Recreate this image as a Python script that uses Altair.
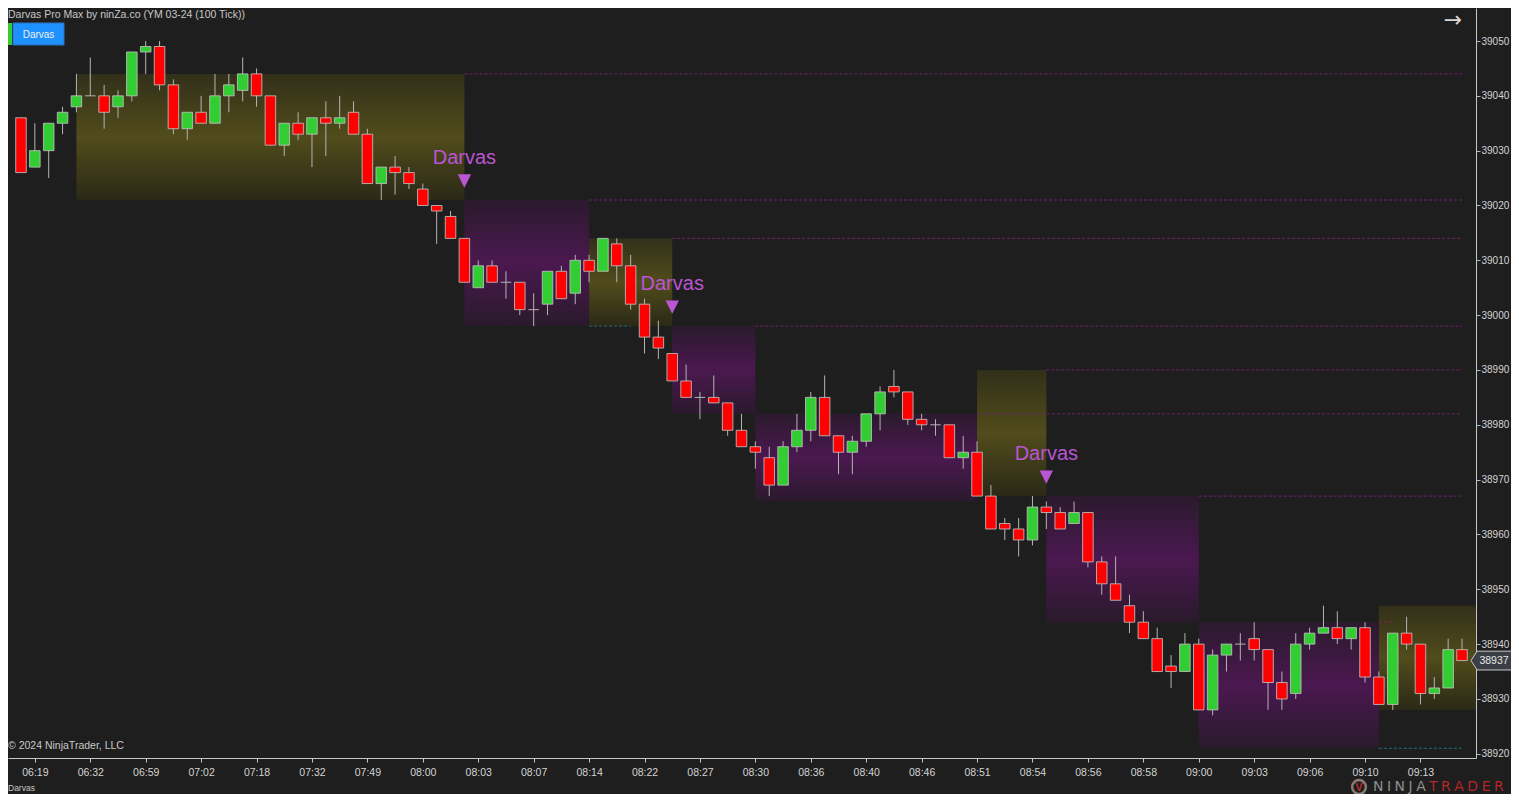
import altair as alt
import pandas as pd

# ---------------- data ----------------
times = ["06:19", "06:32", "06:59", "07:02", "07:18", "07:32", "07:49", "08:00", "08:03",
         "08:07", "08:14", "08:22", "08:27", "08:30", "08:36", "08:40", "08:46", "08:51",
         "08:54", "08:56", "08:58", "09:00", "09:03", "09:06", "09:10", "09:13"]

opens = [39036, 39027, 39030, 39035, 39038, 39040, 39040, 39038, 39040, 39048,
         39049, 39042, 39034, 39037, 39035, 39040, 39041, 39044, 39040, 39031,
         39035, 39033, 39036, 39035, 39037, 39033, 39024, 39027, 39026, 39023,
         39020, 39018, 39014, 39005, 39009, 39006, 39006, 39001, 39002, 39008,
         39004, 39010, 39008, 39013, 39009, 39002, 38996, 38993, 38988, 38985,
         38985, 38984, 38979, 38976, 38974, 38969, 38976, 38979, 38985, 38978,
         38975, 38977, 38982, 38987, 38986, 38981, 38980, 38980, 38974, 38975,
         38967, 38962, 38961, 38959, 38965, 38964, 38962, 38964, 38955, 38951,
         38947, 38944, 38941, 38936, 38935, 38940, 38928, 38938, 38940, 38941,
         38939, 38933, 38931, 38940, 38942, 38943, 38941, 38943, 38934, 38929,
         38942, 38940, 38931, 38932, 38939]
highs = [39036, 39035, 39035, 39038, 39044, 39047, 39042, 39041, 39048, 39050,
         39050, 39043, 39037, 39040, 39044, 39044, 39047, 39045, 39040, 39035,
         39037, 39036, 39039, 39040, 39039, 39034, 39027, 39029, 39027, 39024,
         39020, 39019, 39014, 39010, 39010, 39008, 39006, 39004, 39008, 39009,
         39011, 39011, 39014, 39014, 39011, 39003, 38999, 38993, 38991, 38986,
         38989, 38984, 38982, 38977, 38976, 38977, 38982, 38986, 38989, 38978,
         38978, 38982, 38987, 38990, 38986, 38982, 38981, 38980, 38978, 38977,
         38969, 38963, 38963, 38967, 38966, 38965, 38966, 38964, 38956, 38956,
         38949, 38946, 38943, 38938, 38942, 38941, 38939, 38940, 38942, 38944,
         38939, 38935, 38942, 38943, 38947, 38946, 38943, 38944, 38935, 38942,
         38945, 38940, 38934, 38941, 38941]
lows = [39026, 39027, 39025, 39033, 39037, 39040, 39034, 39036, 39039, 39044,
        39041, 39033, 39032, 39035, 39035, 39037, 39039, 39038, 39031, 39029,
        39032, 39027, 39029, 39034, 39033, 39024, 39021, 39022, 39023, 39020,
        39013, 39014, 39006, 39005, 39006, 39003, 39000, 38998, 39000, 39003,
        39002, 39006, 39008, 39006, 39001, 38993, 38992, 38988, 38985, 38981,
        38984, 38978, 38976, 38972, 38967, 38969, 38975, 38977, 38978, 38971,
        38971, 38976, 38979, 38985, 38980, 38979, 38978, 38974, 38972, 38967,
        38961, 38959, 38956, 38958, 38961, 38961, 38962, 38954, 38949, 38948,
        38942, 38941, 38935, 38932, 38935, 38928, 38927, 38935, 38937, 38937,
        38928, 38928, 38930, 38939, 38942, 38940, 38939, 38933, 38929, 38928,
        38939, 38929, 38930, 38932, 38937]
closes = [39026, 39030, 39035, 39037, 39040, 39040, 39037, 39040, 39048, 39049,
          39042, 39034, 39037, 39035, 39040, 39042, 39044, 39040, 39031, 39035,
          39033, 39036, 39035, 39036, 39033, 39024, 39027, 39026, 39024, 39020,
          39019, 39014, 39006, 39009, 39006, 39006, 39001, 39001, 39008, 39003,
          39010, 39008, 39014, 39009, 39002, 38996, 38994, 38988, 38985, 38985,
          38984, 38979, 38976, 38975, 38969, 38976, 38979, 38985, 38978, 38975,
          38977, 38982, 38986, 38986, 38981, 38980, 38980, 38974, 38975, 38967,
          38961, 38961, 38959, 38965, 38964, 38961, 38964, 38955, 38951, 38948,
          38944, 38941, 38935, 38935, 38940, 38928, 38938, 38940, 38940, 38939,
          38933, 38930, 38940, 38942, 38943, 38941, 38943, 38934, 38929, 38942,
          38940, 38931, 38932, 38939, 38937]

# Darvas boxes (bar index start/end, price low/high)
olive_start = [4, 41, 69, 98]
olive_end = [32, 47, 74, 105]
olive_lo = [39021, 38998, 38967, 38928]
olive_hi = [39044, 39014, 38990, 38947]

purple_start = [32, 47, 53, 74, 85]
purple_end = [41, 53, 69, 85, 98]
purple_lo = [38998, 38982, 38966, 38944, 38921]
purple_hi = [39021, 38998, 38982, 38967, 38944]

# extended box levels
level_start = [32, 41, 47, 53, 74, 69, 85, 41, 98, 98]
level_end = [104, 104, 104, 104, 104, 104, 104, 44, 104, 99]
level_price = [39044, 39021, 39014, 38998, 38990, 38982, 38967, 38998, 38921, 38944]
level_kind = ["box", "box", "box", "box", "box", "box", "box", "low", "low", "brk"]

# Darvas signals
signal_bar = [32, 47, 74]
signal_price = [39021, 38998, 38967]
signal_text = ["Darvas", "Darvas", "Darvas"]

y_ticks = list(range(38920, 39051, 10))
x_ticks = [1 + 4 * k for k in range(len(times))]

title_text = "Darvas Pro Max by ninZa.co (YM 03-24 (100 Tick))"

# ---------------- frames ----------------
n = len(opens)
HALF = 0.38
candles = pd.DataFrame({
    "i": list(range(n)), "o": opens, "h": highs, "l": lows, "c": closes,
})
candles["xl"] = candles["i"] - HALF
candles["xr"] = candles["i"] + HALF
candles["bot"] = candles[["o", "c"]].min(axis=1)
candles["top"] = candles[["o", "c"]].max(axis=1)
candles["dir"] = ["up" if c > o else ("down" if c < o else "flat") for o, c in zip(opens, closes)]
bodies = candles[candles["dir"] != "flat"]
dojis = candles[candles["dir"] == "flat"]

olive = pd.DataFrame({"s": olive_start, "e": olive_end, "lo": olive_lo, "hi": olive_hi})
purple = pd.DataFrame({"s": purple_start, "e": purple_end, "lo": purple_lo, "hi": purple_hi})
levels = pd.DataFrame({"s": level_start, "e": level_end, "p": level_price, "k": level_kind})
signals = pd.DataFrame({"i": signal_bar, "p": signal_price, "t": signal_text})
last = pd.DataFrame({"p": [closes[-1]], "t": [str(closes[-1])]})
one = pd.DataFrame({"t": [title_text]})

# ---------------- scales / axes ----------------
FONT = "Liberation Sans, Arial, sans-serif"
W, H = 1468, 750
xs = alt.Scale(domain=[-0.938, 105.009], nice=False, zero=False)
ys = alt.Scale(domain=[38919.23, 39056.02], nice=False, zero=False)

label_expr = "[" + ",".join("'%s'" % t for t in times) + "][round((datum.value-1)/4)]"
x_axis = alt.Axis(values=x_ticks, labelExpr=label_expr, grid=False, title=None,
                  domainColor="#c8c8c8", tickColor="#c8c8c8", tickSize=4,
                  labelColor="#d4d4d4", labelFontSize=10.5, labelFont=FONT,
                  labelPadding=5, labelOverlap=False, labelFlush=False)
y_axis = alt.Axis(values=y_ticks, orient="right", grid=False, title=None,
                  domainColor="#c8c8c8", tickColor="#b4b4b4", tickSize=4,
                  labelColor="#d4d4d4", labelFontSize=10, labelFont=FONT,
                  labelPadding=1, labelOverlap=False, labelFlush=False, format="d")


def X(f):
    return alt.X(f, type="quantitative", scale=xs, axis=x_axis)


def Y(f):
    return alt.Y(f, type="quantitative", scale=ys, axis=y_axis)


olive_grad = alt.Gradient(gradient="linear", x1=0, x2=0, y1=0, y2=1, stops=[
    alt.GradientStop(offset=0, color="#32301a"),
    alt.GradientStop(offset=0.5, color="#514c1b"),
    alt.GradientStop(offset=1, color="#2b2917"),
])
purple_grad = alt.Gradient(gradient="linear", x1=0, x2=0, y1=0, y2=1, stops=[
    alt.GradientStop(offset=0, color="#2b1a2d"),
    alt.GradientStop(offset=0.5, color="#4b1850"),
    alt.GradientStop(offset=1, color="#2a1a2c"),
])

olive_layer = alt.Chart(olive).mark_rect(fill=olive_grad).encode(
    x=X("s"), x2="e", y=Y("lo"), y2="hi")
purple_layer = alt.Chart(purple).mark_rect(fill=purple_grad).encode(
    x=X("s"), x2="e", y=Y("lo"), y2="hi")

level_layer = alt.Chart(levels).mark_rule(strokeDash=[3, 2], strokeWidth=1).encode(
    x=X("s"), x2="e", y=Y("p"),
    color=alt.Color("k:N", scale=alt.Scale(domain=["box", "low", "brk"],
                                           range=["#6e226e", "#1f6e6e", "#7a2a4e"]), legend=None))

wick_layer = alt.Chart(candles).mark_rule(color="#b4b4b4", strokeWidth=1).encode(
    x=X("i"), y=Y("l"), y2="h")

body_layer = alt.Chart(bodies).mark_rect(stroke="#c0c0c0", strokeWidth=1, strokeOpacity=0.85).encode(
    x=X("xl"), x2="xr", y=Y("bot"), y2="top",
    fill=alt.Fill("dir:N", scale=alt.Scale(domain=["up", "down"], range=["#32cd32", "#ff0000"]), legend=None))

doji_layer = alt.Chart(dojis).mark_rule(color="#b4b4b4", strokeWidth=1).encode(
    x=X("xl"), x2="xr", y=Y("o"))

sig_text = alt.Chart(signals).mark_text(color="#ba55d3", fontSize=20, font=FONT, dy=-42,
                                        baseline="middle", align="center").encode(
    x=X("i"), y=Y("p"), text="t:N")
sig_tri = alt.Chart(signals).mark_point(shape="M-1,-1L1,-1L0,1Z", size=180, filled=True,
                                        color="#ba55d3", opacity=1, yOffset=-19).encode(
    x=X("i"), y=Y("p"))

# current price tag
tag_shape = alt.Chart(last).mark_point(shape="M-1,0L-0.74,-0.4L1,-0.4L1,0.4L-0.74,0.4Z", size=2209,
                                       filled=True, fill="#3b3f45", stroke="#c8c8c8",
                                       strokeWidth=1, opacity=1).encode(
    x=alt.value(1486.5), y=Y("p"))
tag_text = alt.Chart(last).mark_text(color="#e8e8e8", fontSize=10.5, font=FONT, align="center",
                                     baseline="middle").encode(
    x=alt.value(1486), y=Y("p"), text="t:N")


def ui_text(s, x, y, **kw):
    return alt.Chart(pd.DataFrame({"t": [s]})).mark_text(**kw).encode(
        x=alt.value(x), y=alt.value(y), text="t:N")


def ui_rect(x1, x2, y1, y2, **kw):
    return alt.Chart(one).mark_rect(**kw).encode(
        x=alt.value(x1), x2=alt.value(x2), y=alt.value(y1), y2=alt.value(y2))


header = ui_text(title_text, 0, 10, color="#c8c8c8", fontSize=10.5, font=FONT,
                 align="left", baseline="alphabetic")
green_bar = ui_rect(0, 4, 15, 37, fill="#32cd32")
button = ui_rect(5, 56, 15, 37, fill="#1e90ff", stroke="#2a70b8", strokeWidth=1)
button_text = ui_text("Darvas", 30.5, 26.5, color="#f0f0f0", fontSize=10, font=FONT,
                      align="center", baseline="middle")
arrow = ui_text("\u2192", 1445, 12, color="#d8d8d8", fontSize=22, font="DejaVu Sans",
                align="center", baseline="middle")
copyright_t = ui_text("\u00a9 2024 NinjaTrader, LLC", 0, 738, color="#c8c8c8", fontSize=10.5,
                      font=FONT, align="left", baseline="middle")
bottom_t = ui_text("Darvas", 0, 780, color="#c8c8c8", fontSize=8.5, font=FONT,
                   align="left", baseline="middle")
logo_ring = alt.Chart(one).mark_point(shape="circle", filled=False, stroke="#8a7c72",
                                      strokeWidth=2.5, size=190, opacity=1).encode(
    x=alt.value(1351), y=alt.value(779))
logo_v = ui_text("V", 1351, 779.5, color="#c0282e", fontSize=11, font=FONT, fontWeight="bold",
                 align="center", baseline="middle")
sp = "\u2005"
logo_ninja = ui_text(sp.join("NINJA"), 1365, 779, color="#8e8e8e", fontSize=14, font="DejaVu Sans",
                     align="left", baseline="middle")
logo_trader = ui_text(sp.join("TRADER"), 1421, 779, color="#b3262c", fontSize=14, font="DejaVu Sans",
                      align="left", baseline="middle")

chart = alt.layer(
    olive_layer, purple_layer, level_layer, wick_layer, body_layer, doji_layer,
    sig_text, sig_tri, tag_shape, tag_text,
    header, green_bar, button, button_text, arrow, copyright_t, bottom_t,
    logo_ring, logo_v, logo_ninja, logo_trader,
).properties(
    width=W, height=H,
    padding={"left": 0, "top": 0, "right": 35, "bottom": 36},
    autosize=alt.AutoSizeParams(type="none"),
).configure(background="#1e1e1e").configure_view(stroke=None)

chart.save("out.html", embed_options={"renderer": "svg", "actions": False})
